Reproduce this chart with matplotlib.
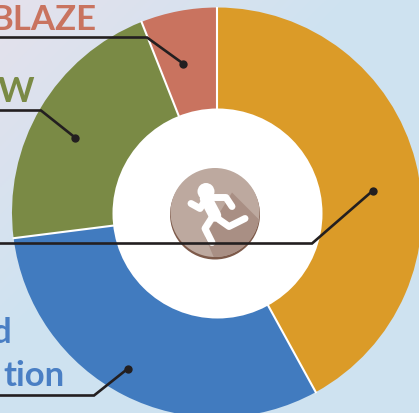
import numpy as np
import matplotlib
matplotlib.use('Agg')
import matplotlib.pyplot as plt
from matplotlib.patches import Circle, Polygon

W, H = 419, 414

# Share of each slice, clockwise from the top
categories = ['Orange', 'Blue', 'Green', 'Blaze']
values = [42, 31, 21, 6]
colors = ['#db9b28', '#417bbf', '#7a8a45', '#c9735f']

labels = ['BLAZE', 'W', 'd', 'tion']
label_x = [96, 34, 11, 65]
label_y = [28, 100, 342, 385]
label_colors = ['#c9735f', '#7a8a45', '#4a7fc4', '#4a7fc4']

# Leader lines in pixel positions (y measured from the top)
leaders = [
    [(-2, 37), (147, 37), (183, 63)],
    [(-2, 110), (41, 110), (75, 137)],
    [(-2, 243), (312, 243), (373, 190)],
    [(-2, 395), (94, 395), (128, 368)],
]


def py(y):
    return H - y - 1.5


fig = plt.figure(figsize=(W / 100, H / 100), dpi=100)
ax = fig.add_axes([0, 0, 1, 1])

# Background fades from lavender to pale blue
xx, yy = np.meshgrid(np.linspace(0, 1, 200), np.linspace(0, 1, 200))
t = np.clip((xx + yy) / 0.85, 0, 1)[..., None]
bg = (1 - t) * np.array([0.898, 0.882, 0.925]) + t * np.array([0.808, 0.890, 0.945])
ax.imshow(bg, extent=[0, W, 0, H], origin='upper', zorder=0, aspect='auto')

cx, cy, radius = 217, py(212), 205
wedges, _ = ax.pie(values, colors=colors, startangle=90, counterclock=False,
                   center=(cx, cy), radius=radius, frame=True)
for w in wedges:
    w.set_zorder(1)

# White separators only, the outer rim has no stroke
for frac in np.cumsum(values)[:] / np.sum(values):
    a = np.pi / 2 - 2 * np.pi * frac
    ax.plot([cx, cx + radius * np.cos(a)], [cy, cy + radius * np.sin(a)],
            color='white', lw=1.5, zorder=1.5)
ax.add_patch(Circle((217.5, py(213)), 105, fc='white', ec='none', zorder=2))

# Runner badge in the middle
ax.add_patch(Circle((215, py(214)), 45, fc='#7d5a4a', ec='none', zorder=3))
badge = Circle((215, py(212)), 44.5, fc='#bda99f', ec='none', zorder=3)
ax.add_patch(badge)
shadow = Polygon([(232, 192), (262, 222), (262, 262), (216, 262), (205, 236)],
                 closed=True, fc='#a98f84', ec='none', zorder=3)
ax.add_patch(shadow)
shadow.set_xy([(x, py(y)) for x, y in shadow.get_xy()])
shadow.set_clip_path(badge)

ax.add_patch(Circle((206, py(191)), 8.5, fc='white', ec='none', zorder=4))
runner = [
    [(191, 203), (200, 208), (207, 197)],
    [(207, 197), (226, 197), (232, 206)],
    [(210, 205), (219, 219), (229, 226), (245, 218)],
    [(214, 214), (205, 228), (212, 242)],
]
for part in runner:
    xs, ys = zip(*part)
    ax.plot(xs, [py(y) for y in ys], color='white', lw=5, solid_capstyle='round',
            solid_joinstyle='round', zorder=4)
xs, ys = zip(*[(206, 198), (215, 215)])
ax.plot(xs, [py(y) for y in ys], color='white', lw=9, solid_capstyle='round', zorder=4)

for pts in leaders:
    xs, ys = zip(*pts)
    ys = [py(y) for y in ys]
    ax.plot(xs, ys, color='#231f20', lw=1.9, solid_joinstyle='miter', zorder=5)
    ax.plot(xs[-1], ys[-1], 'o', color='#231f20', ms=6, mew=0, zorder=5)

for txt, x, y, c in zip(labels, label_x, label_y, label_colors):
    ax.text(x, py(y), txt, color=c, fontsize=25, family='Lato', weight='bold',
            ha='right', va='baseline', zorder=6)

ax.set_xlim(0, W)
ax.set_ylim(0, H)
ax.set_aspect('auto')
ax.axis('off')
fig.savefig('out.png', dpi=100)
